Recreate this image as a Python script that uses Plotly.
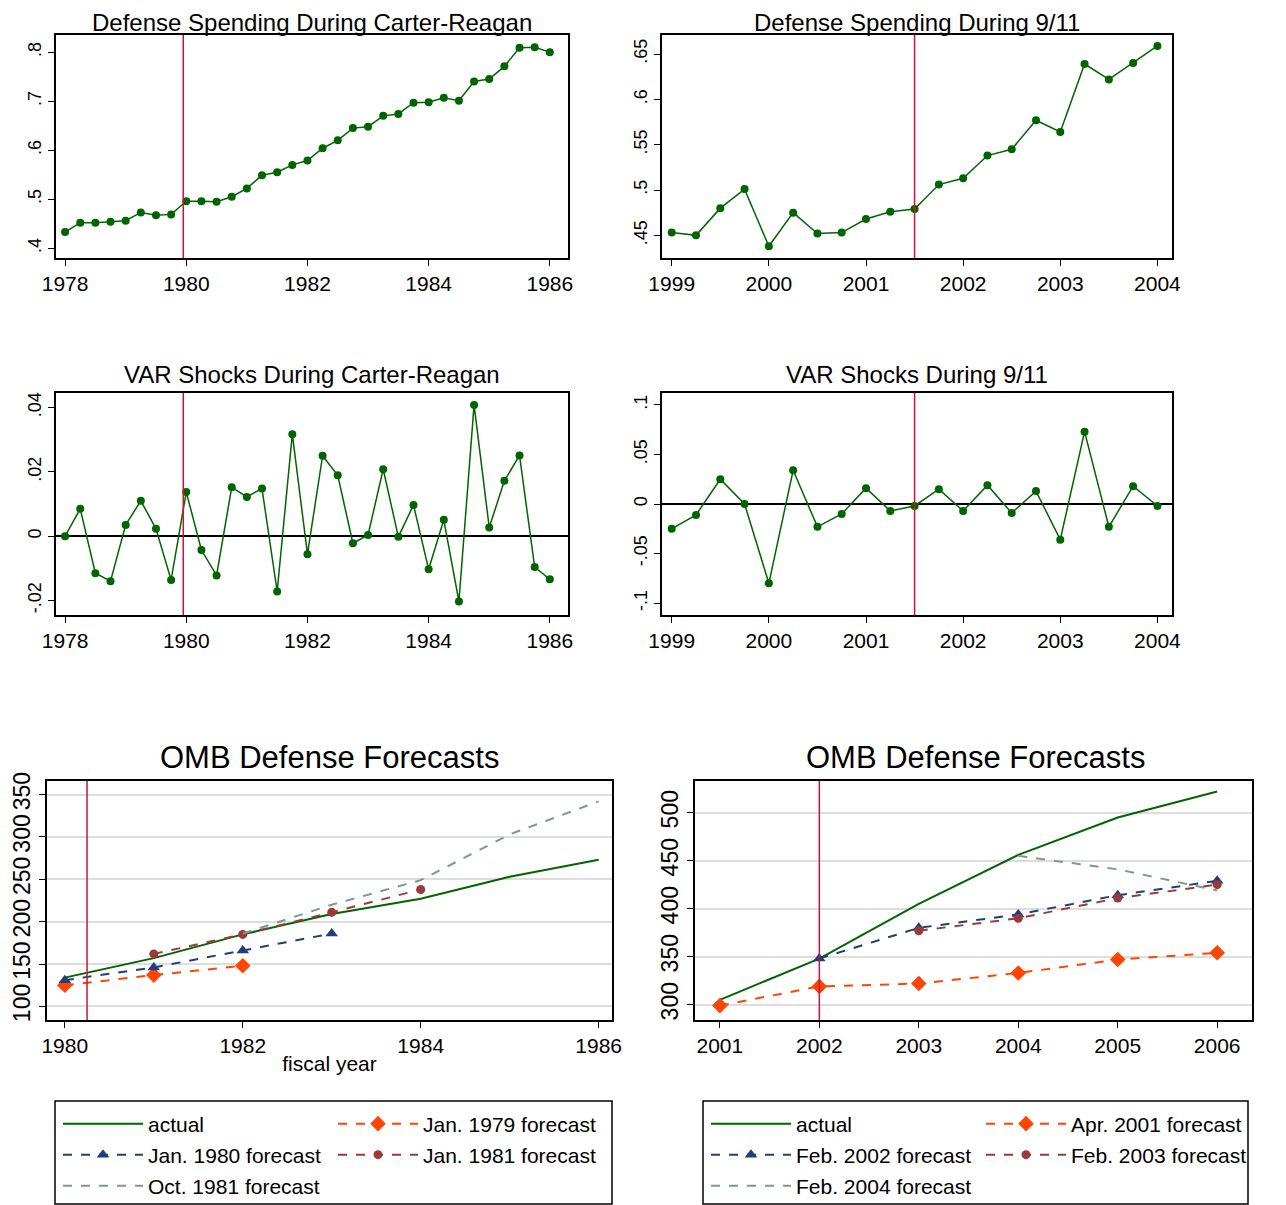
import plotly.graph_objects as go

# ---------------- data ----------------
q_cr = [1978 + 0.25 * i for i in range(33)]
def_cr = [0.433,0.452,0.452,0.454,0.456,0.473,0.467,0.469,0.496,0.496,0.495,0.505,0.522,0.549,0.555,0.570,
          0.579,0.604,0.620,0.645,0.648,0.670,0.674,0.697,0.698,0.707,0.701,0.740,0.745,0.771,0.809,0.810,0.800]
q_911 = [1999 + 0.25 * i for i in range(21)]
def_911 = [0.453,0.450,0.480,0.501,0.438,0.475,0.452,0.453,0.468,0.476,0.479,0.506,0.513,0.538,0.545,
           0.577,0.564,0.639,0.622,0.640,0.659]
var_cr = [0.0,0.0085,-0.0115,-0.014,0.0035,0.011,0.0023,-0.0136,0.0137,-0.0043,-0.0122,0.0152,0.0122,0.0148,
          -0.0172,0.0317,-0.0056,0.025,0.0189,-0.0022,0.0004,0.0208,-0.0002,0.0097,-0.0103,0.0051,-0.0203,
          0.0408,0.0027,0.0172,0.0251,-0.0096,-0.0134]
var_911 = [-0.025,-0.011,0.025,0.0,-0.08,0.034,-0.023,-0.01,0.016,-0.007,-0.002,0.015,-0.007,0.019,-0.009,
           0.013,-0.036,0.073,-0.023,0.018,-0.002]

fy_cr = [1980,1981,1982,1983,1984,1985,1986]
actual_cr = [134,157,185,209,227,253,273]
jan79_x = [1980,1981,1982]; jan79 = [125,137,148]
jan80_x = [1980,1981,1982,1983]; jan80 = [131,146,166,186]
jan81_x = [1981,1982,1983,1984]; jan81 = [162,185,211,238]
oct81_x = [1982,1983,1984,1985,1986]; oct81 = [186,220,249,303,342]

fy_911 = [2001,2002,2003,2004,2005,2006]
actual_911 = [305,348,405,456,495,522]
apr01 = [299,319,322,333,347,354]
feb02_x = [2002,2003,2004,2005,2006]; feb02 = [348,380,394,414,429]
feb03_x = [2003,2004,2005,2006]; feb03 = [377,390,411,425]
feb04_x = [2004,2005,2006]; feb04 = [455,441,419]

event_cr_q = 1979.95
event_911_q = 2001.5
event_cr_fy = 1980.25
event_911_fy = 2002

GREEN = "#006400"; RED = "#D0103A"
W, H = 1286, 1205
OFF = 8  # page body margin
FONT = "Liberation Sans, Arial, sans-serif"

def px(x):
    return (x - OFF) / W

def py(y):
    return 1 - (y - OFF) / H

fig = go.Figure()

def dom(x0, x1, y0, y1):
    return [px(x0), px(x1)], [py(y1), py(y0)]

panels = {
    1: dom(56, 568, 35, 258),
    2: dom(662, 1172, 35, 258),
    3: dom(56, 568, 393, 615),
    4: dom(662, 1172, 393, 615),
    5: dom(47, 612, 781, 1020),
    6: dom(695, 1252, 781, 1020),
}

def ax(i, s):
    return s if i == 1 else f"{s}{i}"

def add_series(i, x, y):
    fig.add_trace(go.Scatter(x=x, y=y, mode="lines+markers", line=dict(color=GREEN, width=1.5),
                             marker=dict(color=GREEN, size=8), showlegend=False,
                             xaxis=ax(i, "x"), yaxis=ax(i, "y")))

add_series(1, q_cr, def_cr)
add_series(2, q_911, def_911)
add_series(3, q_cr, var_cr)
add_series(4, q_911, var_911)

MSIZE = {"diamond": 12, "triangle-up": 11, "circle": 9}

def fc(i, x, y, name, color, dash, symbol, leg):
    mode = "lines" if symbol is None else "lines+markers"
    fig.add_trace(go.Scatter(x=x, y=y, mode=mode, name=name,
                             line=dict(color=color, dash=dash, width=2),
                             marker=dict(symbol=symbol or "circle", color=color,
                                         size=MSIZE.get(symbol, 9)),
                             legend=leg, xaxis=ax(i, "x"), yaxis=ax(i, "y")))

fc(5, fy_cr, actual_cr, "actual", GREEN, "solid", None, "legend")
fc(5, jan79_x, jan79, "Jan. 1979 forecast", "#FF4500", "dash", "diamond", "legend")
fc(5, jan80_x, jan80, "Jan. 1980 forecast", "#1F3F7A", "dash", "triangle-up", "legend2")
fc(5, jan81_x, jan81, "Jan. 1981 forecast", "#9B3A3A", "dash", "circle", "legend2")
fc(5, oct81_x, oct81, "Oct. 1981 forecast", "#7A9A8A", "dash", None, "legend3")

fc(6, fy_911, actual_911, "actual", GREEN, "solid", None, "legend4")
fc(6, fy_911, apr01, "Apr. 2001 forecast", "#FF4500", "dash", "diamond", "legend4")
fc(6, feb02_x, feb02, "Feb. 2002 forecast", "#1F3F7A", "dash", "triangle-up", "legend5")
fc(6, feb03_x, feb03, "Feb. 2003 forecast", "#9B3A3A", "dash", "circle", "legend5")
fc(6, feb04_x, feb04, "Feb. 2004 forecast", "#7A9A8A", "dash", None, "legend6")

layout = dict(width=W, height=H, margin=dict(l=0, r=0, t=0, b=0, autoexpand=False),
              plot_bgcolor="white", paper_bgcolor="white", font=dict(family=FONT, color="black"))

xcfg = {
    1: dict(range=[1977.85, 1986.3], tickvals=[1978,1980,1982,1984,1986]),
    2: dict(range=[1998.9, 2004.15], tickvals=[1999,2000,2001,2002,2003,2004]),
    3: dict(range=[1977.85, 1986.3], tickvals=[1978,1980,1982,1984,1986]),
    4: dict(range=[1998.9, 2004.15], tickvals=[1999,2000,2001,2002,2003,2004]),
    5: dict(range=[1979.8, 1986.15], tickvals=[1980,1982,1984,1986]),
    6: dict(range=[2000.75, 2006.35], tickvals=[2001,2002,2003,2004,2005,2006]),
}
ycfg = {
    1: dict(range=[0.38, 0.835], tickvals=[0.4,0.5,0.6,0.7,0.8], ticktext=[".4",".5",".6",".7",".8"]),
    2: dict(range=[0.425, 0.671], tickvals=[0.45,0.5,0.55,0.6,0.65], ticktext=[".45",".5",".55",".6",".65"]),
    3: dict(range=[-0.0245, 0.0445], tickvals=[-0.02,0,0.02,0.04], ticktext=["-.02","0",".02",".04"]),
    4: dict(range=[-0.112, 0.112], tickvals=[-0.1,-0.05,0,0.05,0.1], ticktext=["-.1","-.05","0",".05",".1"]),
    5: dict(range=[84, 366], tickvals=[100,150,200,250,300,350]),
    6: dict(range=[284, 533], tickvals=[300,350,400,450,500]),
}
for i, (xd, yd) in panels.items():
    big = i >= 5
    layout[ax(i, "xaxis")] = dict(domain=xd, anchor=ax(i, "y"), showgrid=False, zeroline=False,
                                  showline=True, linecolor="black", linewidth=2, mirror=True,
                                  ticks="outside", ticklen=6, tickcolor="black",
                                  tickfont=dict(family=FONT, size=21, color="black"),
                                  **xcfg[i])
    layout[ax(i, "yaxis")] = dict(domain=yd, anchor=ax(i, "x"), showgrid=big, gridcolor="#DDDDDD",
                                  gridwidth=2, zeroline=(i in (3, 4)), zerolinecolor="black",
                                  zerolinewidth=1.5, showline=True, linecolor="black", linewidth=1.5,
                                  mirror=True, ticks="outside", ticklen=6, tickcolor="black",
                                  tickangle=-90,
                                  tickfont=dict(family=FONT, size=23 if big else 18, color="black"),
                                  **ycfg[i])
layout["xaxis5"]["title"] = dict(text="fiscal year", font=dict(family=FONT, size=21), standoff=0)

fig.update_layout(**layout)

for i, xv in [(1, event_cr_q), (2, event_911_q), (3, event_cr_q), (4, event_911_q),
              (5, event_cr_fy), (6, event_911_fy)]:
    fig.add_shape(type="line", xref=ax(i, "x"), yref=ax(i, "y") + " domain", x0=xv, x1=xv, y0=0, y1=1,
                  line=dict(color=RED, width=1.5))

titles = [(312, 8, "Defense Spending During Carter-Reagan", 24, "top"),
          (917, 8, "Defense Spending During 9/11", 24, "top"),
          (312, 374, "VAR Shocks During Carter-Reagan", 24, "middle"),
          (917, 374, "VAR Shocks During 9/11", 24, "middle"),
          (329, 757, "OMB Defense Forecasts", 31, "middle"),
          (975, 757, "OMB Defense Forecasts", 31, "middle")]
for x, y, t, s, ya in titles:
    fig.add_annotation(x=px(x), y=py(y), xref="paper", yref="paper", text=t, showarrow=False,
                       font=dict(family=FONT, size=s, color="black"), xanchor="center", yanchor=ya,
                       borderpad=0)

for x0, x1 in [(55, 612), (703, 1248)]:
    fig.add_shape(type="rect", xref="paper", yref="paper", x0=px(x0), x1=px(x1),
                  y0=py(1204), y1=py(1101), line=dict(color="black", width=1.5),
                  fillcolor="rgba(0,0,0,0)", layer="below")

legcommon = dict(orientation="h", yanchor="middle", xanchor="left", borderwidth=0,
                 bgcolor="rgba(0,0,0,0)", font=dict(family=FONT, size=21, color="black"),
                 entrywidth=180, itemwidth=80)
rows = [1124, 1155, 1186]
legs = {}
for k, (xl, yrow) in enumerate([(58, rows[0]), (58, rows[1]), (58, rows[2]),
                                (706, rows[0]), (706, rows[1]), (706, rows[2])]):
    name = "legend" if k == 0 else f"legend{k + 1}"
    legs[name] = dict(x=px(xl), y=py(yrow), **legcommon)
fig.update_layout(**legs)

fig.write_html("out.html")
